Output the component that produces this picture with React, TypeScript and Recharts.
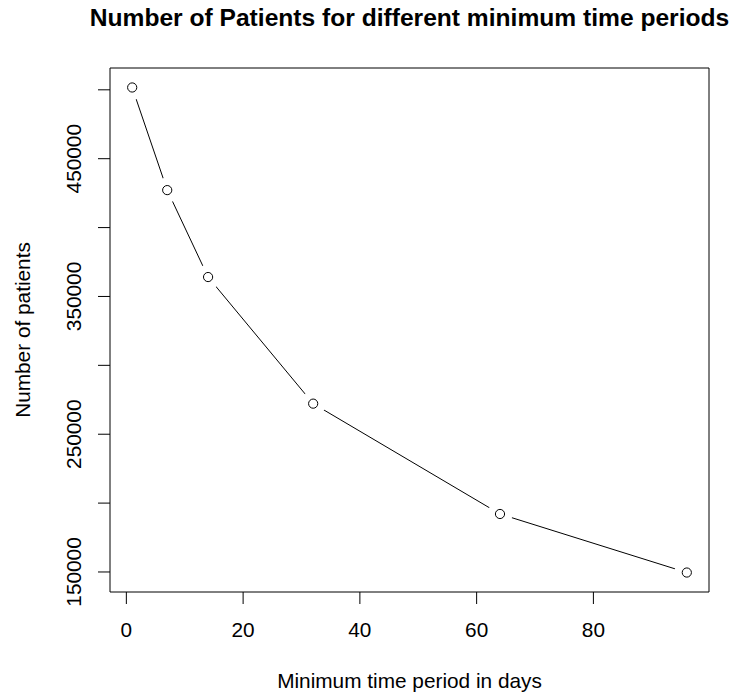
import { LineChart, Line, XAxis, YAxis, ReferenceArea } from 'recharts'

const days = [1, 7, 14, 32, 64, 96]
const patients = [501700, 427200, 364100, 272200, 192100, 149600]
const xTicks = [0, 20, 40, 60, 80]
const yTicks = [150000, 200000, 250000, 300000, 350000, 400000, 450000, 500000]
// R drops every other label on the y axis because they would overlap
const yLabelled = [150000, 250000, 350000, 450000]

const xDomain: [number, number] = [-2.8, 99.8]
const yDomain: [number, number] = [135470, 515840]

const data = days.map((d, i) => ({ days: d, patients: patients[i] }))

const font = '"Liberation Sans", Arial, Helvetica, sans-serif'

const XTick = ({ x, y, payload }: any) => (
  <text x={x} y={y} dy={31} textAnchor="middle" fontFamily={font} fontSize={20.8} fill="#000">
    {payload.value}
  </text>
)

const YTick = ({ x, y, payload }: any) => {
  if (!yLabelled.includes(payload.value)) return <g />
  const tx = x - 14.5
  return (
    <text
      x={tx}
      y={y}
      transform={`rotate(-90 ${tx} ${y})`}
      textAnchor="middle"
      fontFamily={font}
      fontSize={20.8}
      fill="#000"
    >
      {payload.value}
    </text>
  )
}

// type="b" style point: white gap around an open circle
const GapDot = ({ cx, cy }: any) => (
  <g>
    <circle cx={cx} cy={cy} r={12.5} fill="#fff" />
    <circle cx={cx} cy={cy} r={4.6} fill="#fff" stroke="#000" strokeWidth={1} />
  </g>
)

export default function App() {
  return (
    <div style={{ position: 'absolute', left: 0, top: 0, width: 731, height: 695, background: '#fff' }}>
      <LineChart width={731} height={695} data={data} margin={{ top: 68, right: 22, left: 0, bottom: 0 }}>
        <XAxis
          dataKey="days"
          type="number"
          domain={xDomain}
          ticks={xTicks}
          height={103}
          axisLine={false}
          tickSize={12}
          tickLine={{ stroke: '#000' }}
          tick={<XTick />}
          allowDataOverflow
        />
        <YAxis
          type="number"
          domain={yDomain}
          ticks={yTicks}
          width={110}
          axisLine={false}
          tickSize={12}
          tickLine={{ stroke: '#000' }}
          tick={<YTick />}
          interval={0}
          allowDataOverflow
        />
        <ReferenceArea
          x1={xDomain[0]}
          x2={xDomain[1]}
          y1={yDomain[0]}
          y2={yDomain[1]}
          fill="none"
          fillOpacity={0}
          stroke="#000"
          strokeWidth={1}
          strokeOpacity={1}
        />
        <Line
          type="linear"
          dataKey="patients"
          stroke="#000"
          strokeWidth={1}
          dot={(p: any) => <GapDot key={p.index} {...p} />}
          activeDot={false}
          isAnimationActive={false}
        />
      </LineChart>
      <svg
        width={731}
        height={695}
        style={{ position: 'absolute', left: 0, top: 0, pointerEvents: 'none' }}
        fontFamily={font}
      >
        <text x={409.5} y={26} textAnchor="middle" fontSize={24.6} fontWeight="bold" fill="#000">
          Number of Patients for different minimum time periods
        </text>
        <text x={409.5} y={688} textAnchor="middle" fontSize={20.8} fill="#000">
          Minimum time period in days
        </text>
        <text x={30} y={330} textAnchor="middle" fontSize={20.8} fill="#000" transform="rotate(-90 30 330)">
          Number of patients
        </text>
      </svg>
    </div>
  )
}
